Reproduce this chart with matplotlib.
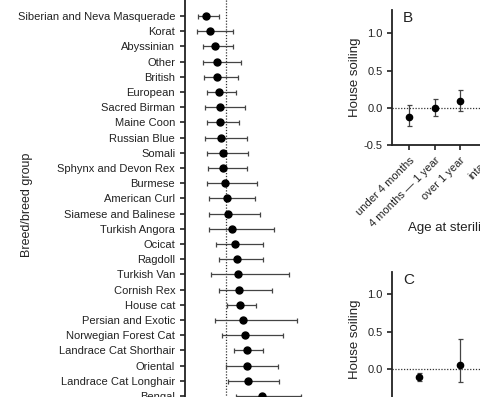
import numpy as np
import matplotlib
matplotlib.use("Agg")
import matplotlib.pyplot as plt

plt.rcParams["font.family"] = ["Liberation Sans", "DejaVu Sans"]

# Panel A: breed estimates (0 = reference, dotted line)
breeds = [
    "Siberian and Neva Masquerade", "Korat", "Abyssinian", "Other", "British",
    "European", "Sacred Birman", "Maine Coon", "Russian Blue", "Somali",
    "Sphynx and Devon Rex", "Burmese", "American Curl", "Siamese and Balinese",
    "Turkish Angora", "Ocicat", "Ragdoll", "Turkish Van", "Cornish Rex",
    "House cat", "Persian and Exotic", "Norwegian Forest Cat",
    "Landrace Cat Shorthair", "Oriental", "Landrace Cat Longhair", "Bengal",
]
breed_est = [-0.27, -0.22, -0.15, -0.12, -0.12, -0.10, -0.08, -0.08, -0.07, -0.04,
             -0.04, -0.01, 0.01, 0.03, 0.08, 0.12, 0.15, 0.16, 0.17, 0.19,
             0.23, 0.25, 0.28, 0.28, 0.30, 0.48]
breed_lo = [-0.38, -0.39, -0.31, -0.31, -0.29, -0.26, -0.28, -0.25, -0.28, -0.26,
            -0.24, -0.26, -0.23, -0.23, -0.23, -0.13, -0.09, -0.20, -0.10, 0.01,
            -0.15, -0.06, 0.11, 0.00, 0.03, 0.13]
breed_hi = [-0.09, 0.09, 0.10, 0.20, 0.16, 0.14, 0.26, 0.18, 0.28, 0.30,
            0.28, 0.41, 0.39, 0.45, 0.64, 0.50, 0.50, 0.84, 0.61, 0.40,
            0.95, 0.77, 0.49, 0.70, 0.71, 1.00]

# Panel B: age at sterilization
age_labels = ["under 4 months", "4 months \u2014 1 year", "over 1 year", "intact"]
age_est = [-0.115, 0.0, 0.094, np.nan]
age_lo = [-0.236, -0.107, -0.04, np.nan]
age_hi = [0.04, 0.125, 0.246, np.nan]

# Panel C (only two groups visible)
c_est = [-0.10, 0.05]
c_lo = [-0.155, -0.17]
c_hi = [-0.05, 0.40]

W, H = 480, 397
fig = plt.figure(figsize=(W / 100, H / 100), dpi=100)


def px_axes(left, top, right, bottom):
    return fig.add_axes([left / W, 1 - bottom / H, (right - left) / W, (bottom - top) / H])


def style(ax):
    for s in ["top", "right"]:
        ax.spines[s].set_visible(False)
    for s in ["left", "bottom"]:
        ax.spines[s].set_linewidth(1.3)
        ax.spines[s].set_color("#222222")
    ax.tick_params(width=1.2, length=3.6, color="#222222", labelsize=8, labelcolor="#222222")


def draw_err(ax, x, y, lo, hi, horizontal=False, ms=5):
    x = np.asarray(x, float)
    y = np.asarray(y, float)
    lo = np.asarray(lo, float)
    hi = np.asarray(hi, float)
    if horizontal:
        ax.errorbar(x, y, xerr=[x - lo, hi - x], fmt="o", color="black", ms=ms,
                    ecolor="#444444", elinewidth=0.9, capsize=1.8, capthick=0.9, zorder=3)
    else:
        ax.errorbar(x, y, yerr=[y - lo, hi - y], fmt="o", color="black", ms=ms,
                    ecolor="#444444", elinewidth=0.9, capsize=1.8, capthick=0.9, zorder=3)


# ---- Panel A ----
axA = px_axes(185, -2, 330, 440)
style(axA)
pxu = 74.6
axA.set_xlim(-41 / pxu, (330 - 226) / pxu)
row = 15.2
axA.set_ylim((440 - 16) / row, -(16 + 2) / row)
ypos = np.arange(len(breeds))
axA.axvline(0, color="#333333", lw=0.9, ls=(0, (1, 1.3)), zorder=1)
draw_err(axA, breed_est, ypos, breed_lo, breed_hi, horizontal=True)
axA.set_yticks(ypos)
axA.set_yticklabels(breeds)
axA.set_xticks([])
axA.spines["bottom"].set_visible(False)
axA.set_ylabel("Breed/breed group", fontsize=9, color="#222222")
axA.yaxis.set_label_coords(33 / W, 1 - 205 / H, transform=fig.transFigure)

# ---- Panel B ----
axB = px_axes(392.3, 10, 530, 145.3)
style(axB)
bx = np.arange(len(age_labels))
axB.set_xlim(-17 / 25.3, (530 - 409.3) / 25.3)
axB.set_ylim(-0.5, 1.0 + 23.3 / 74.7)
axB.set_yticks([-0.5, 0.0, 0.5, 1.0])
axB.set_yticklabels(["-0.5", "0.0", "0.5", "1.0"])
axB.axhline(0, color="#333333", lw=0.9, ls=(0, (1, 1.3)), zorder=1)
draw_err(axB, bx, age_est, age_lo, age_hi, ms=4.5)
axB.set_xticks(bx)
axB.set_xticklabels(age_labels, rotation=45, ha="right", rotation_mode="anchor")
axB.set_ylabel("House soiling", fontsize=9.5, color="#222222")
axB.yaxis.set_label_coords(361 / W, 1 - 77 / H, transform=fig.transFigure)
axB.set_xlabel("Age at sterilization", fontsize=9.5, color="#222222", ha="left")
axB.xaxis.set_label_coords(408 / W, 1 - 222 / H, transform=fig.transFigure)
axB.text(403 / W, 1 - 18 / H, "B", transform=fig.transFigure, fontsize=11,
         va="center", ha="left", color="#222222")

# ---- Panel C ----
axC = px_axes(392.3, 272.3, 545, 406.5)
style(axC)
cx = np.arange(len(c_est))
axC.set_xlim(-26.7 / 40.7, (545 - 419) / 40.7)
axC.set_ylim(-0.5, 1.0 + 21.7 / 75)
axC.set_yticks([-0.5, 0.0, 0.5, 1.0])
axC.set_yticklabels(["-0.5", "0.0", "0.5", "1.0"])
axC.axhline(0, color="#333333", lw=0.9, ls=(0, (1, 1.3)), zorder=1)
draw_err(axC, cx, c_est, c_lo, c_hi, ms=4.5)
axC.set_xticks([])
axC.set_ylabel("House soiling", fontsize=9.5, color="#222222")
axC.yaxis.set_label_coords(361 / W, 1 - 339 / H, transform=fig.transFigure)
axC.text(403 / W, 1 - 280 / H, "C", transform=fig.transFigure, fontsize=11,
         va="center", ha="left", color="#222222")

fig.savefig("out.png", dpi=100)
